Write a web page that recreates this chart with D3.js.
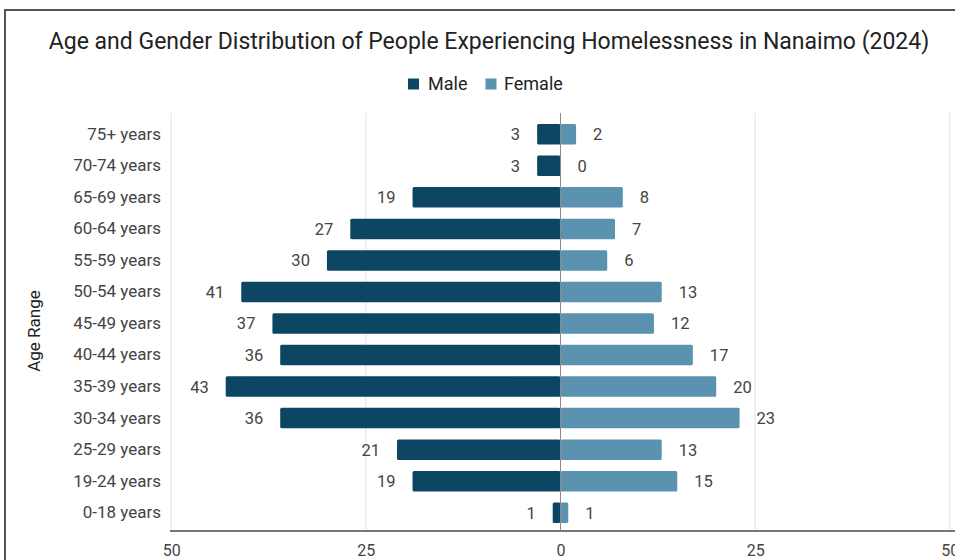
<!DOCTYPE html>
<html>
<head>
<meta charset="utf-8">
<script src="https://cdn.jsdelivr.net/npm/d3@7"></script>
<style>
  html, body { margin: 0; padding: 0; background: #fff; }
  svg { display: block; font-family: Roboto, "Noto Sans", sans-serif; }
</style>
</head>
<body>
<svg id="chart" width="955" height="560"></svg>
<script>
// Age groups, top to bottom
const ageGroups = ["75+ years", "70-74 years", "65-69 years", "60-64 years", "55-59 years",
  "50-54 years", "45-49 years", "40-44 years", "35-39 years", "30-34 years",
  "25-29 years", "19-24 years", "0-18 years"];
const maleCounts = [3, 3, 19, 27, 30, 41, 37, 36, 43, 36, 21, 19, 1];
const femaleCounts = [2, 0, 8, 7, 6, 13, 12, 17, 20, 23, 13, 15, 1];
const xTicks = [-50, -25, 0, 25, 50];
const seriesNames = ["Male", "Female"];
const seriesColors = ["#0c4662", "#5a92b0"];

const svg = d3.select("#chart");

// outer frame
svg.append("path")
  .attr("d", "M5,560 L5,10 L955,10")
  .attr("fill", "none")
  .attr("stroke", "#555")
  .attr("stroke-width", 2);

const x = d3.scaleLinear().domain([-50, 50]).range([171.2, 949.8]);
const y = d3.scaleBand().domain(ageGroups).range([118.5, 528.5]).paddingInner(0.35).paddingOuter(0.175);

const plotTop = 113, plotBottom = 531;

// vertical gridlines
svg.append("g").selectAll("line")
  .data(xTicks.filter(t => t !== 0))
  .join("line")
  .attr("x1", d => x(d)).attr("x2", d => x(d))
  .attr("y1", plotTop).attr("y2", plotBottom)
  .attr("stroke", "#e2e2e2").attr("stroke-width", 1);

// bars
const rows = ageGroups.map((a, i) => ({ age: a, male: maleCounts[i], female: femaleCounts[i] }));

svg.append("g").selectAll("rect")
  .data(rows)
  .join("rect")
  .attr("x", d => x(-d.male))
  .attr("y", d => y(d.age))
  .attr("width", d => x(0) - x(-d.male))
  .attr("height", y.bandwidth())
  .attr("rx", 1.5)
  .attr("fill", seriesColors[0]);

svg.append("g").selectAll("rect")
  .data(rows.filter(d => d.female > 0))
  .join("rect")
  .attr("x", x(0))
  .attr("y", d => y(d.age))
  .attr("width", d => x(d.female) - x(0))
  .attr("height", y.bandwidth())
  .attr("rx", 1.5)
  .attr("fill", seriesColors[1]);

// zero line
svg.append("line")
  .attr("x1", x(0)).attr("x2", x(0))
  .attr("y1", plotTop).attr("y2", plotBottom)
  .attr("stroke", "#8a8a8a").attr("stroke-width", 1);

// value labels
svg.append("g").selectAll("text")
  .data(rows)
  .join("text")
  .attr("x", d => x(-d.male) - 17)
  .attr("y", d => y(d.age) + y.bandwidth() / 2)
  .attr("dy", "0.36em")
  .attr("text-anchor", "end")
  .attr("font-size", 16.5)
  .attr("fill", "#444")
  .text(d => d.male);

svg.append("g").selectAll("text")
  .data(rows)
  .join("text")
  .attr("x", d => x(d.female) + 17)
  .attr("y", d => y(d.age) + y.bandwidth() / 2)
  .attr("dy", "0.36em")
  .attr("text-anchor", "start")
  .attr("font-size", 16.5)
  .attr("fill", "#444")
  .text(d => d.female);

// category axis labels
const yAxis = d3.axisLeft(y).tickSize(0).tickPadding(0);
const gy = svg.append("g").attr("transform", "translate(161,0)").call(yAxis);
gy.select(".domain").remove();
gy.selectAll("text")
  .attr("font-family", "Roboto, sans-serif")
  .attr("font-size", 17)
  .attr("fill", "#444");

// bottom axis
svg.append("line")
  .attr("x1", 170).attr("x2", 955)
  .attr("y1", plotBottom).attr("y2", plotBottom)
  .attr("stroke", "#777").attr("stroke-width", 2);

const xAxis = d3.axisBottom(x).tickValues(xTicks).tickFormat(d => Math.abs(d)).tickSize(0).tickPadding(0);
const gx = svg.append("g").attr("transform", "translate(0,0)").call(xAxis);
gx.select(".domain").remove();
gx.selectAll("text")
  .attr("y", 556)
  .attr("dy", null)
  .attr("font-family", "Roboto, sans-serif")
  .attr("font-size", 16)
  .attr("fill", "#444");

// axis title
svg.append("text")
  .attr("transform", "translate(40,331) rotate(-90)")
  .attr("text-anchor", "middle")
  .attr("font-size", 17)
  .attr("fill", "#222")
  .text("Age Range");

// title
svg.append("text")
  .attr("x", 489)
  .attr("y", 49)
  .attr("text-anchor", "middle")
  .attr("font-size", 23)
  .attr("fill", "#222")
  .text("Age and Gender Distribution of People Experiencing Homelessness in Nanaimo (2024)");

// legend
const legend = svg.append("g");
const legendItems = [
  { name: seriesNames[0], color: seriesColors[0], sx: 408, tx: 428 },
  { name: seriesNames[1], color: seriesColors[1], sx: 485.5, tx: 504 }
];
legend.selectAll("rect")
  .data(legendItems)
  .join("rect")
  .attr("x", d => d.sx).attr("y", 78.5)
  .attr("width", 11).attr("height", 11)
  .attr("fill", d => d.color);
legend.selectAll("text")
  .data(legendItems)
  .join("text")
  .attr("x", d => d.tx).attr("y", 84)
  .attr("dy", "0.36em")
  .attr("font-size", 18)
  .attr("fill", "#222")
  .text(d => d.name);
</script>
</body>
</html>
